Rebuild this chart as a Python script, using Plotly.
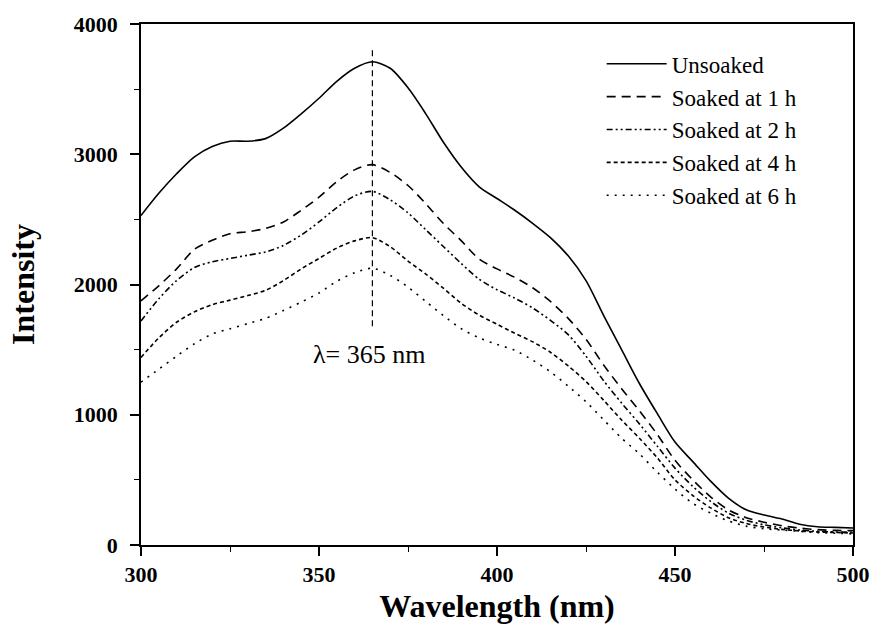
import plotly.graph_objects as go

wavelength = list(range(300, 505, 5))

unsoaked = [2530, 2700, 2850, 2980, 3060, 3100, 3100, 3120, 3200, 3310,
            3430, 3560, 3660, 3710, 3660, 3510, 3310, 3090, 2900, 2750,
            2660, 2570, 2470, 2360, 2220, 2030, 1760, 1500, 1240, 1010,
            790, 640, 490, 360, 270, 230, 200, 160, 140, 135, 130]
soaked_1h = [1875, 1990, 2120, 2270, 2340, 2390, 2405, 2430, 2480, 2570,
             2670, 2790, 2880, 2920, 2860, 2760, 2620, 2467, 2335, 2195,
             2120, 2055, 1975, 1870, 1740, 1580, 1380, 1200, 1030, 850,
             650, 500, 370, 270, 210, 175, 148, 130, 118, 112, 110]
soaked_2h = [1720, 1890, 2030, 2130, 2175, 2200, 2225, 2250, 2300, 2380,
             2480, 2590, 2680, 2715, 2650, 2550, 2420, 2290, 2160, 2040,
             1960, 1895, 1820, 1725, 1615, 1450, 1260, 1090, 930, 760,
             590, 450, 335, 245, 190, 155, 132, 115, 105, 100, 98]
soaked_4h = [1440, 1590, 1710, 1790, 1845, 1880, 1915, 1955, 2030, 2120,
             2200, 2280, 2335, 2360, 2290, 2180, 2080, 1970, 1855, 1765,
             1695, 1625, 1560, 1480, 1375, 1255, 1110, 960, 820, 670,
             500, 380, 285, 210, 165, 138, 120, 108, 100, 96, 92]
soaked_6h = [1250, 1350, 1450, 1545, 1620, 1660, 1700, 1740, 1800, 1865,
             1935, 2025, 2090, 2125, 2070, 1980, 1870, 1760, 1660, 1590,
             1540, 1495, 1420, 1330, 1220, 1100, 960, 820, 700, 560,
             430, 320, 245, 185, 145, 125, 115, 105, 95, 90, 85]

series_names = ["Unsoaked", "Soaked at 1 h", "Soaked at 2 h", "Soaked at 4 h", "Soaked at 6 h"]
series_values = [unsoaked, soaked_1h, soaked_2h, soaked_4h, soaked_6h]
dash_styles = ["solid", "9px,6px", "6px,3px,2px,3px,2px,3px", "4px,3px", "2px,6px"]

peak_wavelength = 365
peak_line_range = [1680, 3800]
peak_label = "λ= 365 nm"
peak_label_y = 1460

x_ticks = [300, 350, 400, 450, 500]
y_ticks = [0, 1000, 2000, 3000, 4000]

SERIF = "Liberation Serif, Times New Roman, serif"

fig = go.Figure()
for name, vals, dash in zip(series_names, series_values, dash_styles):
    fig.add_trace(go.Scatter(
        x=wavelength, y=vals, name=name, mode="lines",
        line=dict(color="black", width=1.6, dash=dash, shape="spline", smoothing=0.8),
    ))

fig.add_trace(go.Scatter(
    x=[peak_wavelength, peak_wavelength], y=peak_line_range, mode="lines",
    line=dict(color="black", width=1.2, dash="6px,4px"), showlegend=False,
    hoverinfo="skip",
))

fig.add_annotation(x=peak_wavelength - 0.7, y=peak_label_y, text=peak_label,
                   showarrow=False, font=dict(family=SERIF, size=26, color="black"))

axis_common = dict(
    showline=True, linecolor="black", linewidth=1.8, mirror=True,
    ticks="outside", ticklen=9, tickwidth=1.6, tickcolor="black",
    showgrid=False, zeroline=False,
    tickfont=dict(family=SERIF, size=22, color="black", weight="bold"),
)

fig.update_xaxes(range=[300, 500], tickvals=x_ticks,
                 title=dict(text="Wavelength (nm)", font=dict(family=SERIF, size=32, color="black", weight="bold"), standoff=8),
                 minor=dict(dtick=25, ticks="outside", ticklen=5, tickwidth=1.4, tickcolor="black"),
                 **axis_common)
fig.update_yaxes(range=[0, 4000], tickvals=y_ticks, ticklabelstandoff=8,
                 title=dict(text="Intensity", font=dict(family=SERIF, size=32, color="black", weight="bold"), standoff=30),
                 minor=dict(dtick=500, ticks="outside", ticklen=5, tickwidth=1.4, tickcolor="black"),
                 **axis_common)

fig.update_layout(
    width=882, height=636,
    margin=dict(l=141, r=23, t=18, b=91),
    paper_bgcolor="white", plot_bgcolor="white",
    showlegend=True,
    legend=dict(x=0.647, y=0.965, xanchor="left", yanchor="top",
                font=dict(family=SERIF, size=23, color="black"),
                bgcolor="rgba(0,0,0,0)", itemwidth=60, tracegroupgap=0),
)

fig.write_html("out.html")
